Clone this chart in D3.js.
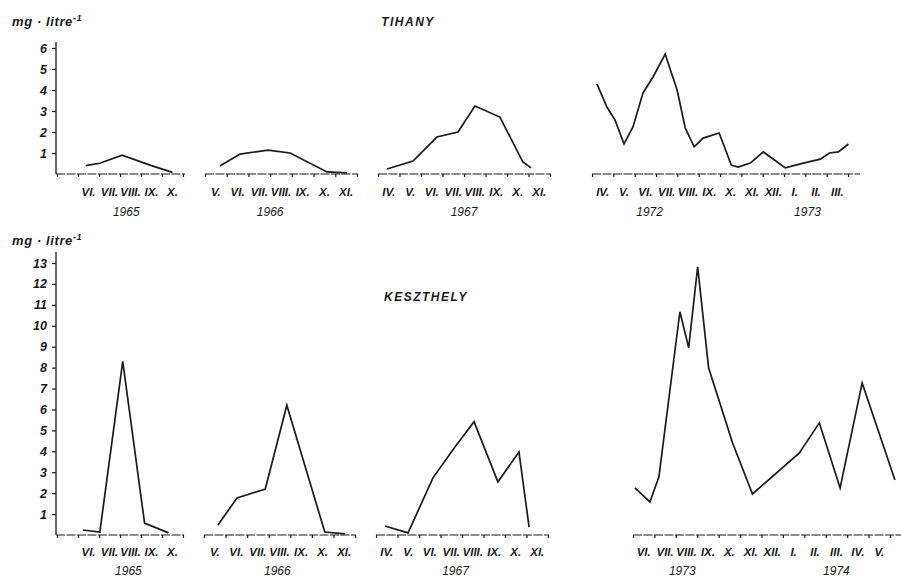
<!DOCTYPE html>
<html>
<head>
<meta charset="utf-8">
<script src="https://cdn.jsdelivr.net/npm/d3@7"></script>
<style>
  body { margin: 0; background: #fff; }
  svg text { font-family: "Liberation Sans", Arial, sans-serif; font-style: italic; fill: #1a1a1a; }
</style>
</head>
<body>
<svg id="chart" width="901" height="579"></svg>
<script>
// month labels per panel ('' = interval left unlabelled)
const tihanyMonths1965 = ['', 'VI.', 'VII.', 'VIII.', 'IX.', 'X.']
const tihanyMonths1966 = ['V.', 'VI.', 'VII.', 'VIII.', 'IX.', 'X.', 'XI.']
const tihanyMonths1967 = ['IV.', 'V.', 'VI.', 'VII.', 'VIII.', 'IX.', 'X.', 'XI.']
const tihanyMonths1972 = ['IV.', 'V.', 'VI.', 'VII.', 'VIII.', 'IX.', 'X.', 'XI.', 'XII.', 'I.', 'II.', 'III.']
const keszMonths1965 = ['', 'VI.', 'VII.', 'VIII.', 'IX.', 'X.']
const keszMonths1966 = ['V.', 'VI.', 'VII.', 'VIII.', 'IX.', 'X.', 'XI.']
const keszMonths1967 = ['IV.', 'V.', 'VI.', 'VII.', 'VIII.', 'IX.', 'X.', 'XI.']
const keszMonths1973 = ['VI.', 'VII.', 'VIII.', 'IX.', 'X.', 'XI.', 'XII.', 'I.', 'II.', 'III.', 'IV.', 'V.']

// year labels: [text, month offset of label centre]
const tihanyYears1965 = [['1965', 3.3]]
const tihanyYears1966 = [['1966', 3.0]]
const tihanyYears1967 = [['1967', 4.0]]
const tihanyYears1972 = [['1972', 2.7], ['1973', 10.1]]
const keszYears1965 = [['1965', 3.4]]
const keszYears1966 = [['1966', 3.4]]
const keszYears1967 = [['1967', 3.7]]
const keszYears1973 = [['1973', 2.3], ['1974', 9.5]]

// series: [months since start of panel axis, mg/litre]
const tihany1965 = [[1.37, 0.4], [2.04, 0.51], [3.1, 0.9], [4.5, 0.4], [5.5, 0.08]]
const tihany1966 = [[0.69, 0.38], [1.61, 0.95], [2.9, 1.14], [3.92, 1.0], [5.62, 0.1], [6.54, 0.05]]
const tihany1967 = [[0.42, 0.24], [1.63, 0.62], [2.74, 1.76], [3.72, 2.0], [4.51, 3.24], [5.67, 2.71], [6.74, 0.57], [7.12, 0.29]]
const tihany1972 = [[0.23, 4.29], [0.7, 3.19], [1.08, 2.57], [1.5, 1.43], [1.92, 2.24], [2.39, 3.86], [2.86, 4.62],
  [3.43, 5.71], [3.99, 4.0], [4.37, 2.19], [4.79, 1.29], [5.21, 1.71], [5.96, 1.95], [6.53, 0.43], [6.85, 0.33],
  [7.42, 0.52], [8.03, 1.05], [9.06, 0.29], [9.91, 0.52], [10.7, 0.71], [11.13, 1.0], [11.55, 1.05], [12.02, 1.43]]
const kesz1965 = [[1.23, 0.24], [2.04, 0.14], [3.13, 8.3], [4.17, 0.57], [5.31, 0.1]]
const kesz1966 = [[0.65, 0.48], [1.53, 1.77], [2.84, 2.2], [3.84, 6.2], [5.6, 0.14], [6.53, 0.05]]
const kesz1967 = [[0.42, 0.43], [1.49, 0.1], [2.65, 2.73], [3.67, 4.21], [4.56, 5.41], [5.67, 2.54], [6.65, 3.97], [7.12, 0.38]]
const kesz1973 = [[0.09, 2.25], [0.79, 1.58], [1.21, 2.78], [2.19, 10.67], [2.6, 8.95], [3.02, 12.82], [3.53, 7.99],
  [4.65, 4.4], [5.58, 1.96], [7.77, 3.92], [8.7, 5.36], [9.67, 2.25], [10.7, 7.27], [12.23, 2.63]]

const tihanyTicks = [1, 2, 3, 4, 5, 6]
const keszTicks = [1, 2, 3, 4, 5, 6, 7, 8, 9, 10, 11, 12, 13]

const svg = d3.select('#chart')
const ink = '#1a1a1a'

const charts = [
  {
    title: 'TIHANY', titleX: 408, titleY: 26, unitY: 26,
    y: d3.scaleLinear().domain([0, 6]).range([174, 48]), yTop: 42, ticks: tihanyTicks,
    monthY: 196, yearY: 216,
    panels: [
      { months: tihanyMonths1965, years: tihanyYears1965, data: tihany1965, range: [57, 183], line: [56, 185] },
      { months: tihanyMonths1966, years: tihanyYears1966, data: tihany1966, range: [205, 357], line: [205, 358] },
      { months: tihanyMonths1967, years: tihanyYears1967, data: tihany1967, range: [378, 550], line: [378, 551] },
      { months: tihanyMonths1972, years: tihanyYears1972, data: tihany1972, range: [592, 848], line: [592, 860] }
    ]
  },
  {
    title: 'KESZTHELY', titleX: 426, titleY: 301, unitY: 245,
    y: d3.scaleLinear().domain([0, 13]).range([535, 263]), yTop: 252, ticks: keszTicks,
    monthY: 556, yearY: 575,
    panels: [
      { months: keszMonths1965, years: keszYears1965, data: kesz1965, range: [57, 183], line: [56, 184] },
      { months: keszMonths1966, years: keszYears1966, data: kesz1966, range: [204, 355], line: [204, 356] },
      { months: keszMonths1967, years: keszYears1967, data: kesz1967, range: [376, 548], line: [376, 549] },
      { months: keszMonths1973, years: keszYears1973, data: kesz1973, range: [633, 890], line: [633, 905] }
    ]
  }
]

charts.forEach(c => {
  const g = svg.append('g')

  // unit label
  const unit = g.append('text')
    .attr('x', 12).attr('y', c.unitY)
    .style('font-size', '13px').style('font-weight', 'bold').style('letter-spacing', '0.6px')
  unit.append('tspan').text('mg · litre')
  unit.append('tspan').attr('dy', -5).style('font-size', '9px').text('-1')

  g.append('text')
    .attr('x', c.titleX).attr('y', c.titleY)
    .attr('text-anchor', 'middle')
    .style('font-size', '12px').style('font-weight', 'bold').style('letter-spacing', '1.5px')
    .text(c.title)

  // y axis
  const yAxis = g.append('g')
    .attr('transform', 'translate(56,0)')
    .call(d3.axisLeft(c.y).tickValues(c.ticks).tickFormat(d3.format('d'))
      .tickSize(4).tickPadding(5).tickSizeOuter(0))
  yAxis.select('.domain').remove()
  yAxis.selectAll('line').attr('stroke', ink).attr('stroke-width', 1.2)
  yAxis.selectAll('text')
    .style('font-family', '"Liberation Sans", Arial, sans-serif')
    .style('font-style', 'italic').style('font-weight', 'bold')
    .style('font-size', '12.5px').attr('fill', ink)
  g.append('line')
    .attr('x1', 56).attr('x2', 56)
    .attr('y1', c.y(0)).attr('y2', c.yTop)
    .attr('stroke', ink).attr('stroke-width', 1.3)

  c.panels.forEach(p => {
    const n = p.months.length
    const x = d3.scaleLinear().domain([0, n]).range(p.range)
    const base = c.y(0)

    // month axis, ticks on month boundaries
    const xAxis = g.append('g')
      .attr('transform', `translate(0,${base})`)
      .call(d3.axisBottom(x).tickValues(d3.range(n + 1)).tickSize(3).tickSizeOuter(0).tickFormat(''))
    xAxis.select('.domain').remove()
    xAxis.selectAll('line').attr('stroke', ink).attr('stroke-width', 1.2)
    g.append('line')
      .attr('x1', p.line[0]).attr('x2', p.line[1])
      .attr('y1', base).attr('y2', base)
      .attr('stroke', ink).attr('stroke-width', 1.2)
      .attr('stroke-dasharray', '9,1.5')

    g.selectAll(null)
      .data(p.months)
      .join('text')
      .attr('x', (d, i) => x(i + 0.5))
      .attr('y', c.monthY)
      .attr('text-anchor', 'middle')
      .style('font-size', '11.5px').style('font-weight', 'bold')
      .text(d => d)

    g.selectAll(null)
      .data(p.years)
      .join('text')
      .attr('x', d => x(d[1]))
      .attr('y', c.yearY)
      .attr('text-anchor', 'middle')
      .style('font-size', '12px')
      .text(d => d[0])

    g.append('path')
      .datum(p.data)
      .attr('fill', 'none')
      .attr('stroke', ink)
      .attr('stroke-width', 1.7)
      .attr('stroke-linejoin', 'miter')
      .attr('d', d3.line().x(d => x(d[0])).y(d => c.y(d[1])))
  })
})
</script>
</body>
</html>
